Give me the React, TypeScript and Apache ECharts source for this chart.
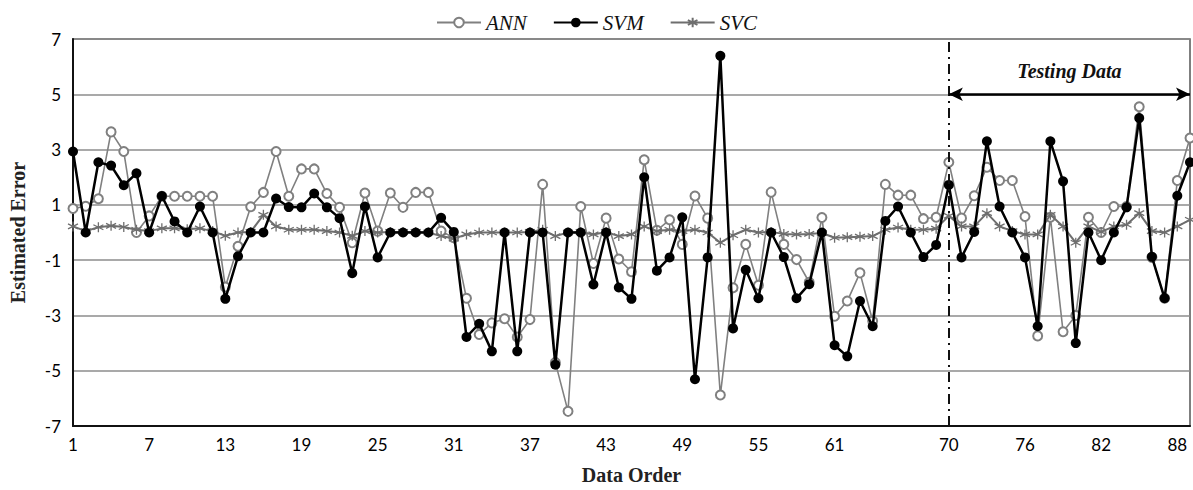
import React, { useEffect, useRef } from 'react';
import * as echarts from 'echarts';

// Data order categories 1..89
const dataOrder: string[] = [
  '1','2','3','4','5','6','7','8','9','10','11','12','13','14','15','16','17','18','19','20',
  '21','22','23','24','25','26','27','28','29','30','31','32','33','34','35','36','37','38','39','40',
  '41','42','43','44','45','46','47','48','49','50','51','52','53','54','55','56','57','58','59','60',
  '61','62','63','64','65','66','67','68','69','70','71','72','73','74','75','76','77','78','79','80',
  '81','82','83','84','85','86','87','88','89',
];

// Tick labels shown on the x axis
const xTickLabels: string[] = ['1','7','13','19','25','31','37','43','49','55','61','70','76','82','88'];

const annError: number[] = [
  0.87, 0.95, 1.22, 3.64, 2.93, 0.0, 0.6, 1.31, 1.31, 1.31,
  1.31, 1.31, -1.97, -0.5, 0.93, 1.45, 2.93, 1.31, 2.3, 2.3,
  1.41, 0.91, -0.37, 1.43, 0.05, 1.43, 0.91, 1.45, 1.45, 0.05,
  -0.19, -2.38, -3.69, -3.27, -3.12, -3.78, -3.15, 1.74, -4.7, -6.47,
  0.94, -1.12, 0.52, -0.96, -1.42, 2.63, 0.08, 0.46, -0.43, 1.32,
  0.52, -5.88, -2.0, -0.43, -1.91, 1.46, -0.43, -0.98, -1.8, 0.54,
  -3.03, -2.48, -1.46, -3.2, 1.74, 1.35, 1.35, 0.5, 0.55, 2.54,
  0.52, 1.33, 2.36, 1.88, 1.88, 0.58, -3.74, 0.55, -3.59, -3.0,
  0.55, 0.0, 0.94, 0.94, 4.55, -0.9, -2.38, 1.88, 3.42,
];

const svmError: number[] = [
  2.93, 0, 2.54, 2.42, 1.71, 2.14, 0, 1.32, 0.4, 0,
  0.94, 0, -2.4, -0.86, 0, 0, 1.23, 0.92, 0.91, 1.41,
  0.91, 0.52, -1.47, 0.94, -0.9, 0, 0, 0, 0, 0.53,
  0.02, -3.78, -3.3, -4.3, 0, -4.3, 0, 0, -4.78, 0,
  0, -1.88, 0, -1.99, -2.4, 2.0, -1.38, -0.9, 0.55, -5.31,
  -0.9, 6.39, -3.47, -1.35, -2.38, 0, -0.89, -2.38, -1.87, 0,
  -4.08, -4.48, -2.48, -3.39, 0.42, 0.94, 0, -0.89, -0.45, 1.72,
  -0.9, 0.02, 3.3, 0.94, 0, -0.9, -3.39, 3.3, 1.85, -4.0,
  0, -1.0, 0, 0.91, 4.14, -0.88, -2.38, 1.33, 2.54,
];

const svcError: number[] = [
  0.22, 0.05, 0.19, 0.24, 0.2, 0.1, 0.05, 0.15, 0.15, 0.12,
  0.15, 0.05, -0.12, 0, 0.02, 0.64, 0.22, 0.1, 0.1, 0.1,
  0.05, 0, -0.12, 0.05, 0, 0.02, 0.02, 0.02, 0, -0.13,
  -0.22, -0.07, 0, 0, 0, 0, 0.02, 0.1, -0.13, 0,
  0.02, -0.07, 0.02, -0.13, -0.07, 0.22, 0.05, 0.1, 0.05, 0.1,
  0, -0.37, -0.1, 0.1, 0, 0.02, -0.05, -0.07, -0.05, -0.02,
  -0.19, -0.17, -0.15, -0.13, 0.1, 0.18, 0.1, 0.1, 0.14, 0.6,
  0.22, 0.22, 0.7, 0.22, 0.05, -0.07, -0.07, 0.64, 0.22, -0.37,
  0.22, 0.02, 0.22, 0.28, 0.7, 0.05, 0, 0.22, 0.46,
];

const testingStart = '70';
const testingEnd = '89';
const testingArrowLevel = 5;

const asteriskPath = 'path://M5,0L5,10M0.67,2.5L9.33,7.5M0.67,7.5L9.33,2.5';

export default function App() {
  const ref = useRef<HTMLDivElement>(null);

  useEffect(() => {
    document.body.style.margin = '0';
    const chart = echarts.init(ref.current!, null, { renderer: 'svg' });
    const shown = new Set(xTickLabels);
    const tickFont = { color: '#000', fontFamily: 'Lato', fontSize: 17 };
    const titleFont = { color: '#222', fontFamily: 'Liberation Serif', fontWeight: 'bold' as const, fontSize: 20 };

    chart.setOption({
      animation: false,
      backgroundColor: '#fff',
      grid: { left: 72, right: 3, top: 39, bottom: 57, show: true, borderColor: '#555', borderWidth: 1.5 },
      legend: {
        top: 7,
        left: 'center',
        itemWidth: 44,
        itemHeight: 12,
        itemGap: 26,
        data: ['ANN', 'SVM', 'SVC'],
        textStyle: { fontFamily: 'Liberation Serif', fontStyle: 'italic', fontSize: 21, color: '#111' },
      },
      xAxis: {
        type: 'category',
        data: dataOrder,
        boundaryGap: false,
        axisLine: { show: true, onZero: false, lineStyle: { color: '#111', width: 2 } },
        axisTick: { show: false },
        axisLabel: { ...tickFont, margin: 10, interval: (_i: number, v: string) => shown.has(v) },
        splitLine: { show: false },
        name: 'Data Order',
        nameLocation: 'middle',
        nameGap: 39,
        nameTextStyle: titleFont,
      },
      yAxis: {
        type: 'value',
        min: -7,
        max: 7,
        interval: 2,
        axisLine: { show: true, lineStyle: { color: '#111', width: 2 } },
        axisTick: { show: false },
        axisLabel: { ...tickFont, margin: 12 },
        splitLine: { show: true, lineStyle: { color: '#8c8c8c', width: 1.5 } },
        name: 'Estimated Error',
        nameLocation: 'middle',
        nameRotate: 90,
        nameGap: 45,
        nameTextStyle: titleFont,
      },
      series: [
        {
          name: 'ANN',
          type: 'line',
          data: annError,
          z: 2,
          showAllSymbol: true,
          symbol: 'emptyCircle',
          symbolSize: 9,
          lineStyle: { color: '#808080', width: 1.6 },
          itemStyle: { color: '#808080', borderColor: '#808080', borderWidth: 1 },
        },
        {
          name: 'SVC',
          type: 'line',
          data: svcError,
          z: 3,
          showAllSymbol: true,
          symbol: asteriskPath,
          symbolSize: 10,
          lineStyle: { color: '#6e6e6e', width: 2 },
          itemStyle: { color: 'transparent', borderColor: '#6e6e6e', borderWidth: 1.3 },
        },
        {
          name: 'SVM',
          type: 'line',
          data: svmError,
          z: 4,
          showAllSymbol: true,
          symbol: 'circle',
          symbolSize: 10,
          lineStyle: { color: '#000', width: 2.5 },
          itemStyle: { color: '#000' },
          markLine: {
            silent: true,
            symbol: ['none', 'none'],
            data: [
              {
                xAxis: testingStart,
                lineStyle: { color: '#111', width: 2, type: [10, 5, 2, 5] },
                label: { show: false },
              },
              [
                {
                  coord: [testingStart, testingArrowLevel],
                  symbol: 'arrow',
                  symbolSize: [10, 14],
                  lineStyle: { color: '#000', width: 2.5, type: 'solid' },
                  label: {
                    show: true,
                    position: 'middle',
                    formatter: 'Testing Data',
                    fontFamily: 'Liberation Serif',
                    fontStyle: 'italic',
                    fontWeight: 'bold',
                    fontSize: 20,
                    color: '#111',
                    distance: 13,
                  },
                },
                { coord: [testingEnd, testingArrowLevel], symbol: 'arrow', symbolSize: [10, 14] },
              ],
            ],
          },
        },
      ],
    });
    return () => chart.dispose();
  }, []);

  return <div ref={ref} style={{ width: 1193, height: 490 }} />;
}
